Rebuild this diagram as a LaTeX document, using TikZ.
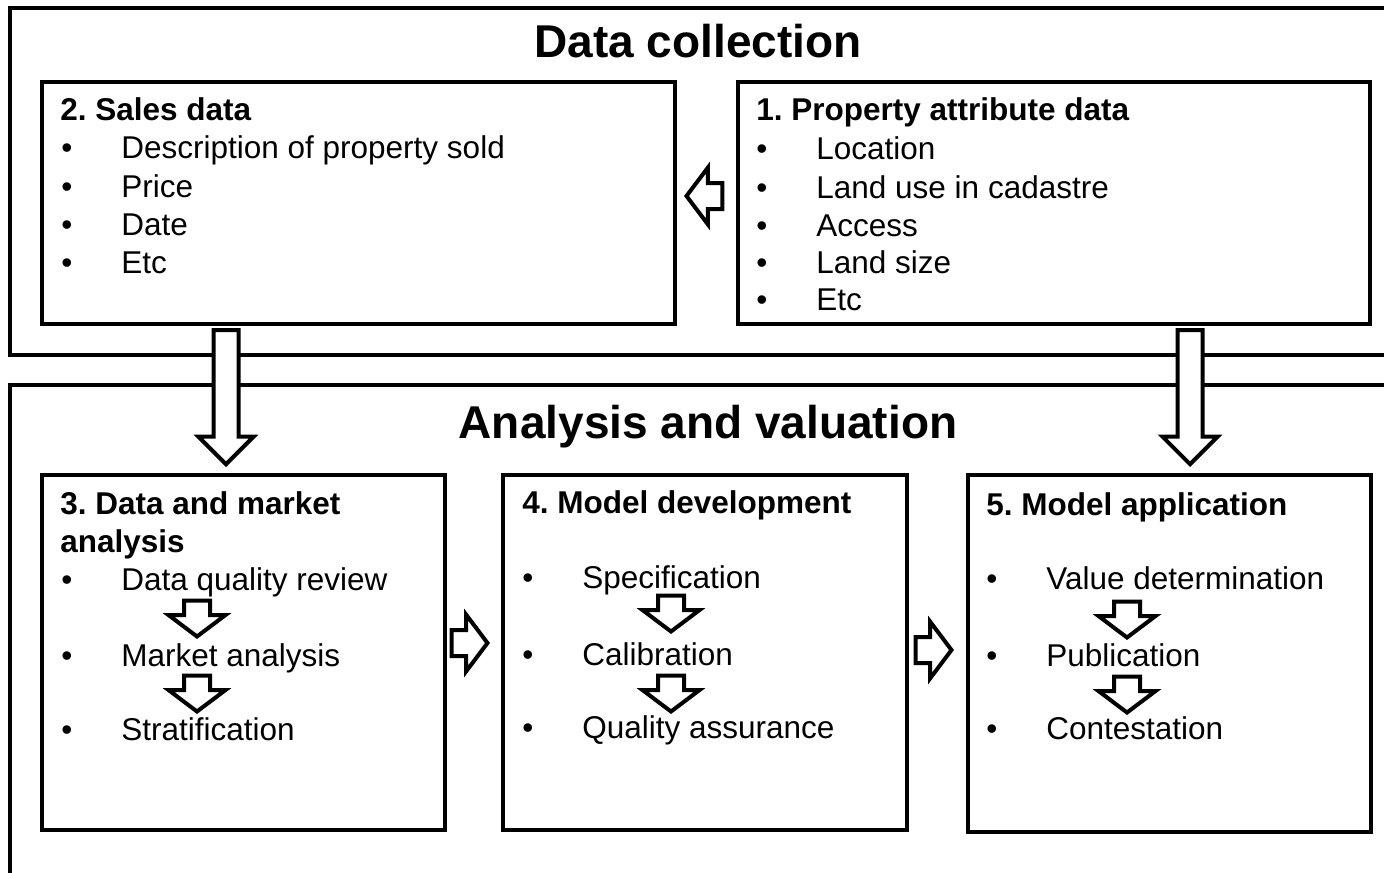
\documentclass[tikz,border=0pt]{standalone}
\usepackage{fontspec}
\setmainfont{Liberation Sans}
\usetikzlibrary{shapes.arrows,positioning}

\newcommand{\itemfont}{\fontsize{15.75}{19}\selectfont}
\newcommand{\headfont}{\fontsize{23}{27}\selectfont\bfseries}
\frenchspacing

\begin{document}
\begin{tikzpicture}[x=0.5pt,y=-0.5pt,
	box/.style={rectangle,draw,line width=2pt,anchor=north west,inner sep=0pt},
	outerframe/.style={line width=2pt},
	heading/.style={anchor=base,inner sep=0pt,font=\headfont},
	boxtitle/.style={anchor=base west,inner sep=0pt,font=\itemfont\bfseries},
	entry/.style={anchor=base west,inner sep=0pt,font=\itemfont},
	bigarrow/.style={single arrow,draw,fill=white,line width=2pt,inner sep=5.25pt,
		single arrow head extend=7.5pt,minimum height=67pt,shape border rotate=270,anchor=tip},
	flowarrow/.style={single arrow,draw,fill=white,line width=2pt,inner sep=5.5pt,
		single arrow head extend=7.75pt,single arrow tip angle=106,minimum height=17pt,anchor=tip},
	flowdown/.style={flowarrow,shape border rotate=270}
	]
\useasboundingbox (0,0) rectangle (1384,872);
\clip (0,0) rectangle (1384,872);

% the two stages
\draw [outerframe] (1400,8) -- (10,8) -- (10,355) -- (1400,355);
\draw [outerframe] (1400,385) -- (10,385) -- (10,900);
\node [heading] (hd1) at (698,58)  {Data collection};
\node [heading] (hd2) at (708,438) {Analysis and valuation};

% boxes
\node [box,minimum width=316.5pt,minimum height=121pt] (sales) at (40,80)  {};
\node [box,minimum width=316pt,minimum height=121pt]   (prop)  at (736,80) {};
\node [box,minimum width=201.5pt,minimum height=177.5pt] (mkt) at (40,473)  {};
\node [box,minimum width=202pt,minimum height=177.5pt]   (dev) at (501,473) {};
\node [box,minimum width=201.5pt,minimum height=178.5pt] (app) at (966,473) {};

% sales data
\node [boxtitle] (tsales) at (60,120) {2. Sales data};
\foreach \txt/\yy [count=\i] in {Description of property sold/158, Price/197, Date/235, Etc/273}
	\node [entry] (s\i) at (61,\yy) {\makebox[30pt][l]{•}\txt};

% property attribute data
\node [boxtitle] (tprop) at (756,120) {1. Property attribute data};
\foreach \txt/\yy [count=\i] in {Location/159, Land use in cadastre/198, Access/236, Land size/273, Etc/310}
	\node [entry] (p\i) at (756,\yy) {\makebox[30pt][l]{•}\txt};

% data and market analysis
\node [boxtitle] (tmkt)  at (60,514) {3. Data and market};
\node [boxtitle] (tmkt2) at (60,552) {analysis};
\foreach \txt/\yy [count=\i] in {Data quality review/590, Market analysis/666, Stratification/740}
	\node [entry] (d\i) at (61,\yy) {\makebox[30pt][l]{•}\txt};

% model development
\node [boxtitle] (tdev) at (522,513) {4. Model development};
\foreach \txt/\yy [count=\i] in {Specification/588, Calibration/665, Quality assurance/738}
	\node [entry] (m\i) at (522,\yy) {\makebox[30pt][l]{•}\txt};

% model application
\node [boxtitle] (tapp) at (986,515) {5. Model application};
\foreach \txt/\yy [count=\i] in {Value determination/589, Publication/666, Contestation/739}
	\node [entry] (v\i) at (986,\yy) {\makebox[30pt][l]{•}\txt};

% arrows between boxes
\node [flowarrow,shape border rotate=180] (aprop) at (684,196) {};
\node [bigarrow] (asales) at (226,467)  {};
\node [bigarrow] (aprop2) at (1190,467) {};
\node [flowarrow] (amkt) at (490,643) {};
\node [flowarrow] (adev) at (954,650) {};

% arrows inside boxes
\node [flowdown] (ad1) at (197,639) {};
\node [flowdown] (ad2) at (197,714) {};
\node [flowdown] (am1) at (671,634) {};
\node [flowdown] (am2) at (671,714) {};
\node [flowdown] (av1) at (1127,640) {};
\node [flowdown] (av2) at (1127,715) {};
\end{tikzpicture}
\end{document}
